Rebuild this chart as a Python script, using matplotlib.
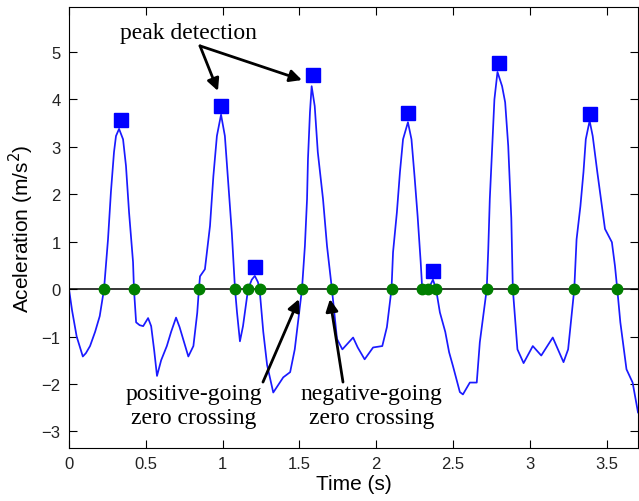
import numpy as np
import matplotlib
matplotlib.use("Agg")
import matplotlib.pyplot as plt

# acceleration trace (s, m/s^2)
time_s = [0.000, 0.02, 0.05, 0.09, 0.11, 0.137, 0.17, 0.20, 0.228, 0.254,
          0.273, 0.293, 0.306, 0.326, 0.352, 0.371, 0.391, 0.417, 0.423, 0.437,
          0.46, 0.483, 0.515, 0.535, 0.555, 0.573, 0.60, 0.637, 0.665, 0.697,
          0.72, 0.777, 0.81, 0.835, 0.846, 0.853, 0.885, 0.918, 0.94, 0.963,
          0.99, 1.015, 1.035, 1.06, 1.081, 1.094, 1.113, 1.133, 1.166, 1.19,
          1.21, 1.23, 1.241, 1.265, 1.29, 1.33, 1.395, 1.44, 1.47, 1.517,
          1.536, 1.55, 1.556, 1.569, 1.58, 1.60, 1.62, 1.654, 1.68, 1.712,
          1.745, 1.78, 1.85, 1.88, 1.925, 1.98, 2.04, 2.07, 2.10, 2.11,
          2.135, 2.155, 2.175, 2.207, 2.23, 2.25, 2.27, 2.29, 2.30, 2.32,
          2.34, 2.37, 2.39, 2.415, 2.45, 2.475, 2.50, 2.545, 2.565, 2.61,
          2.655, 2.675, 2.72, 2.73, 2.74, 2.755, 2.77, 2.79, 2.82, 2.84,
          2.86, 2.88, 2.89, 2.92, 2.96, 3.02, 3.075, 3.15, 3.22, 3.25,
          3.29, 3.305, 3.33, 3.35, 3.365, 3.39, 3.41, 3.44, 3.47, 3.49,
          3.535, 3.555, 3.57, 3.59, 3.63, 3.67, 3.705]
accel = [0.00, -0.45, -1.0, -1.42, -1.35, -1.2, -0.9, -0.57, 0.0, 1.05,
         2.05, 2.89, 3.23, 3.38, 3.16, 2.6, 1.62, 0.57, 0.0, -0.70,
         -0.76, -0.78, -0.61, -0.78, -1.3, -1.83, -1.5, -1.2, -0.9, -0.6,
         -0.8, -1.42, -1.2, -0.5, 0.0, 0.27, 0.42, 1.33, 2.38, 3.23,
         3.68, 3.23, 2.32, 1.2, 0.0, -0.49, -1.1, -0.78, 0.0, 0.2,
         0.28, 0.15, 0.0, -0.9, -1.6, -2.18, -1.86, -1.75, -1.27, 0.0,
         0.91, 1.9, 2.74, 3.73, 4.28, 3.86, 2.89, 1.9, 0.91, 0.0,
         -1.05, -1.27, -1.02, -1.23, -1.48, -1.23, -1.2, -0.8, 0.0, 0.78,
         1.62, 2.47, 3.16, 3.52, 3.16, 2.38, 1.54, 0.57, 0.0, -0.06,
         0.0, 0.2, 0.0, -0.49, -0.9, -1.33, -1.62, -2.17, -2.22, -1.97,
         -1.97, -1.12, 0.0, 0.84, 1.9, 2.95, 4.0, 4.58, 4.28, 3.94,
         3.02, 1.5, 0.0, -1.27, -1.56, -1.2, -1.40, -1.02, -1.54, -1.27,
         0.0, 1.05, 1.75, 2.47, 3.16, 3.55, 3.23, 2.47, 1.75, 1.27,
         0.99, 0.49, 0.0, -0.70, -1.69, -1.97, -2.6]

# detected peaks
peak_t = [0.339, 0.99, 1.21, 1.59, 2.21, 2.37, 2.80, 3.39]
peak_v = [3.57, 3.87, 0.46, 4.52, 3.72, 0.39, 4.77, 3.70]

# detected zero crossings
zero_t = [0.228, 0.423, 0.846, 1.081, 1.166, 1.241, 1.517, 1.712,
          2.10, 2.30, 2.34, 2.39, 2.72, 2.89, 3.29, 3.57]

sans = "Liberation Sans"
serif = "Liberation Serif"

fig = plt.figure(figsize=(6.39, 5.02), dpi=100)
ax = fig.add_axes([69 / 639, 53 / 502, 569 / 639, 441 / 502])

ax.axhline(0, color="black", lw=1.1, zorder=1)
ax.plot(time_s, accel, color="#1a1aff", lw=1.25, zorder=2)
ax.plot(peak_t, peak_v, "s", color="#0000ff", ms=10, zorder=3)
ax.plot(zero_t, np.zeros(len(zero_t)), "o", color="#007f00", ms=7.5, zorder=3)

ax.set_xlim(0, 3.705)
ax.set_ylim(-3.35, 5.95)
ax.set_xticks(np.arange(0, 3.6, 0.5))
ax.set_xticklabels(["0", "0.5", "1", "1.5", "2", "2.5", "3", "3.5"])
ax.set_yticks(range(-3, 6))
ax.tick_params(direction="in", length=6, width=0.8, top=True, right=True,
               labelsize=12, labelcolor="#222222", pad=6)
for lab in ax.get_xticklabels() + ax.get_yticklabels():
    lab.set_family(sans)
for sp in ax.spines.values():
    sp.set_linewidth(0.8)

ax.set_xlabel("Time (s)", family=sans, fontsize=15, labelpad=2)
ax.set_ylabel("Aceleration (m/s$^2$)", family=sans, fontsize=15, labelpad=4)

arrow = dict(arrowstyle="-|>", color="black", lw=2, mutation_scale=18,
             shrinkA=0, shrinkB=0)

ax.text(0.775, 5.42, "peak detection", family=serif, fontsize=17,
        ha="center", va="center")
ax.annotate("", xy=(0.970, 4.18), xytext=(0.853, 5.13), arrowprops=arrow)
ax.annotate("", xy=(1.517, 4.41), xytext=(0.853, 5.13), arrowprops=arrow)

ax.text(0.814, -2.45, "positive-going\nzero crossing", family=serif,
        fontsize=17, ha="center", va="center", linespacing=1.15)
ax.annotate("", xy=(1.497, -0.21), xytext=(1.263, -1.96), arrowprops=arrow)

ax.text(1.97, -2.45, "negative-going\nzero crossing", family=serif,
        fontsize=17, ha="center", va="center", linespacing=1.15)
ax.annotate("", xy=(1.699, -0.21), xytext=(1.784, -1.96), arrowprops=arrow)

fig.savefig("out.png", dpi=100)
